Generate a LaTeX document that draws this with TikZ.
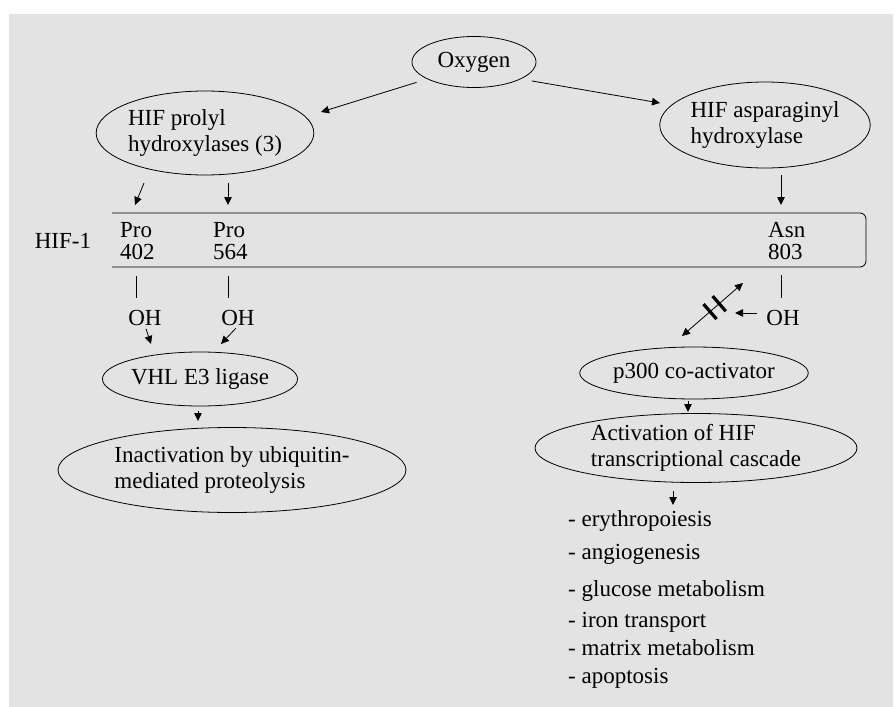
\documentclass[tikz,border=0pt]{standalone}
\usepackage{fontspec}
\setmainfont{Liberation Serif}
\usetikzlibrary{arrows.meta, positioning, shapes.geometric, calc}
\definecolor{HIFgray}{HTML}{E3E3E3}

\tikzset{
  bubble/.style={draw, ellipse, inner sep=0pt, line width=0.8pt, align=left,
    font=\fontsize{23}{26}\selectfont},
  lbl/.style={inner sep=0pt, align=left, font=\fontsize{23}{22}\selectfont},
  tip/.style={-{Triangle[length=8pt,width=7.5pt]}, line width=0.8pt},
  dbltip/.style={{Triangle[length=8pt,width=7.5pt]}-{Triangle[length=8pt,width=7.5pt]}, line width=0.8pt},
  stub/.style={line width=0.8pt},
}

\begin{document}
\begin{tikzpicture}[x=1pt, y=-1pt]
\useasboundingbox (0,0) rectangle (895,707);
\fill[white] (0,0) rectangle (895,707);
\fill[HIFgray] (9,14) rectangle (893,707);

% enzymes
\node[bubble, minimum width=124pt, minimum height=51pt] (oxy) at (474,62) {Oxygen};
\node[bubble, minimum width=216pt, minimum height=84pt] (phd) at (205,133) {HIF prolyl\\hydroxylases (3)};
\node[bubble, minimum width=201pt, minimum height=86pt] (fih) at (765,125) {HIF asparaginyl\\hydroxylase};

\coordinate (phdin) at (321,112);
\coordinate (fihin) at (660,103);
\draw[tip, shorten <=11pt] (oxy.200) -- (phdin);
\draw[tip, shorten <=11pt] (oxy.340) -- (fihin);

% HIF-1 bar
\draw[line width=0.8pt, rounded corners=6pt] (112,213) -- (866,213) -- (866,267) -- (112,267);
\node[lbl] (hif) at (63,241) {HIF-1};
\node[lbl, anchor=west] (p402) at (120,241) {Pro\\402};
\node[lbl, anchor=west] (p564) at (213,241) {Pro\\564};
\node[lbl, anchor=west] (a803) at (768,241) {Asn\\803};

\coordinate (h1) at (144,183);
\coordinate (h1e) at (135,205);
\coordinate (h2) at (228,183);
\coordinate (h2e) at (228,205);
\coordinate (h3) at (781,175);
\coordinate (h3e) at (781,205);
\draw[tip] (h1) -- (h1e);
\draw[tip] (h2) -- (h2e);
\draw[tip] (h3) -- (h3e);

% hydroxyl groups
\draw[stub] (136,276) -- (136,298);
\draw[stub] (228,276) -- (228,298);
\draw[stub] (781,275) -- (781,298);
\node[lbl] (oh1) at (145,318) {OH};
\node[lbl] (oh2) at (238,318) {OH};
\node[lbl] (oh3) at (783,318) {OH};

% left branch
\node[bubble, minimum width=194pt, minimum height=54pt] (vhl) at (200,379) {VHL E3 ligase};
\node[bubble, minimum width=348pt, minimum height=85pt] (inact) at (232,470) {Inactivation by ubiquitin-\\mediated proteolysis};

\coordinate (v1) at (151,344);
\coordinate (v2) at (221,344);
\draw[tip, shorten <=3pt] (oh1.south) -- (v1);
\draw[tip, shorten <=3pt] (oh2.south) -- (v2);
\coordinate (i1) at (198,411);
\coordinate (i2) at (198,421);
\draw[tip] (i1) -- (i2);

% right branch
\node[bubble, minimum width=226pt, minimum height=52pt] (p300) at (694,373) {p300 co-activator};
\node[bubble, minimum width=322pt, minimum height=69pt] (cascade) at (696,448) {Activation of HIF\\transcriptional cascade};

\coordinate (ohout) at (757,313);
\coordinate (ohin) at (735,313);
\draw[tip] (ohout) -- (ohin);

\coordinate (d1) at (682,336);
\coordinate (d2) at (743,283);
\draw[dbltip] (d1) -- (d2);
\path (d1) -- (d2) coordinate[pos=0.46] (m1) coordinate[pos=0.61] (m2);
\draw[line width=3.2pt] ([shift={(131:10pt)}]m1) -- ([shift={(-49:10pt)}]m1);
\draw[line width=3.2pt] ([shift={(131:10pt)}]m2) -- ([shift={(-49:10pt)}]m2);

\coordinate (c1) at (688,401);
\coordinate (c2) at (688,412);
\draw[tip] (c1) -- (c2);
\coordinate (l1) at (673,491);
\coordinate (l2) at (673,505);
\draw[tip] (l1) -- (l2);

% target genes
\node[lbl, anchor=base west] (g1) at (568,526) {- erythropoiesis};
\node[lbl, anchor=base west] (g2) at (568,559) {- angiogenesis};
\node[lbl, anchor=base west] (g3) at (568,596) {- glucose metabolism};
\node[lbl, anchor=base west] (g4) at (568,627) {- iron transport};
\node[lbl, anchor=base west] (g5) at (568,655) {- matrix metabolism};
\node[lbl, anchor=base west] (g6) at (568,683) {- apoptosis};
\end{tikzpicture}
\end{document}
